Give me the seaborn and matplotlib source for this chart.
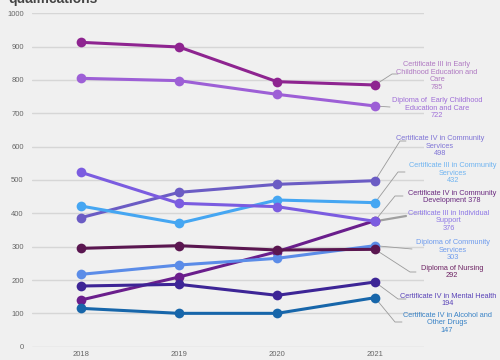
import matplotlib
matplotlib.use("Agg")
import matplotlib.pyplot as plt
import seaborn as sns
import pandas as pd

years = [2018, 2019, 2020, 2021]

series_names = [
    "Certificate III in Early Childhood Education and Care",
    "Diploma of Early Childhood Education and Care",
    "Certificate IV in Community Services",
    "Certificate III in Community Services",
    "Certificate IV in Community Development",
    "Certificate III in Individual Support",
    "Diploma of Community Services",
    "Diploma of Nursing",
    "Certificate IV in Mental Health",
    "Certificate IV in Alcohol and Other Drugs",
]

ecec_cert3 = [913, 899, 795, 785]
ecec_dip = [805, 798, 757, 722]
cs_cert4 = [387, 463, 487, 498]
cs_cert3 = [422, 370, 440, 432]
cd_cert4 = [140, 209, 285, 378]
is_cert3 = [523, 430, 420, 376]
cs_dip = [217, 245, 265, 303]
nursing_dip = [295, 303, 290, 292]
mh_cert4 = [182, 187, 154, 194]
aod_cert4 = [115, 100, 100, 147]

all_values = [ecec_cert3, ecec_dip, cs_cert4, cs_cert3, cd_cert4,
              is_cert3, cs_dip, nursing_dip, mh_cert4, aod_cert4]

line_colors = ["#8e2490", "#9d5fd6", "#6b5cc4", "#45a6f2", "#6a1e8c",
               "#7b5ce0", "#5b8ce8", "#5a1650", "#3d2596", "#1766aa"]
label_colors = ["#b07ac2", "#a06fd8", "#7f74d6", "#6fb4f0", "#6a2a80",
                "#8e78e6", "#6f9cee", "#6e2464", "#5a44b8", "#3a83c6"]

label_texts = [
    "Certificate III in Early\nChildhood Education and\nCare\n785",
    "Diploma of  Early Childhood\nEducation and Care\n722",
    "Certificate IV in Community\nServices\n498",
    "Certificate III in Community\nServices\n432",
    "Certificate IV in Community\nDevelopment 378",
    "Certificate III in Individual\nSupport\n376",
    "Diploma of Community\nServices\n303",
    "Diploma of Nursing\n292",
    "Certificate IV in Mental Health\n194",
    "Certificate IV in Alcohol and\nOther Drugs\n147",
]

rows = []
for name, vals in zip(series_names, all_values):
    for y, v in zip(years, vals):
        rows.append({"Year": y, "Qualification": name, "Count": v})
df = pd.DataFrame(rows)

sns.set_theme(style="white")
plt.rcParams["font.family"] = ["Liberation Sans", "DejaVu Sans"]

bg = "#f0f0f0"
fig = plt.figure(figsize=(5, 3.6), dpi=100, facecolor=bg)
ax = fig.add_axes([0.064, 0.037, 0.784, 0.926], facecolor=bg)

ax.set_axisbelow(True)
ax.yaxis.grid(True, color="#d6d6d6", linewidth=1.0)
ax.xaxis.grid(False)

sns.lineplot(data=df, x="Year", y="Count", hue="Qualification",
             hue_order=series_names, palette=dict(zip(series_names, line_colors)),
             marker="o", markersize=7, markeredgewidth=0, linewidth=2.2,
             legend=False, ax=ax)

ax.set_xlim(2017.5, 2021.5)
ax.set_ylim(0, 1000)
ax.set_yticks(range(0, 1001, 100))
ax.set_xticks(years)
ax.set_xticklabels([str(y) for y in years])
ax.set_xlabel("")
ax.set_ylabel("")
ax.tick_params(axis="both", length=0, labelsize=5.5, colors="#666666")
ax.tick_params(axis="y", pad=6)
ax.tick_params(axis="x", pad=3)
for s in ax.spines.values():
    s.set_visible(False)

# annotations: (text center x px, text center y px, leader path points in px)
W, H = 500, 360
ann = [
    (437, 76, [(392, 74), (398, 74)]),
    (437, 108, [(390, 107)]),
    (440, 146, [(400, 141), (406, 141)]),
    (453, 173, [(398, 172), (405, 172)]),
    (452, 197, [(395, 196), (403, 196)]),
    (449, 221, [(406, 216)]),
    (453, 250, [(412, 249)]),
    (452, 272, [(410, 272), (416, 272)]),
    (448, 300, [(398, 299), (406, 299)]),
    (447, 323, [(395, 322), (402, 322)]),
]

def px2data(px, py):
    disp = (px, (H - py))
    return ax.transData.inverted().transform(disp)

fig.canvas.draw()
for i, (tx, ty, path) in enumerate(ann):
    x0, y0 = years[-1], all_values[i][-1]
    xs = [x0]
    ys = [y0]
    for (px, py) in path:
        dx, dy = px2data(px, py)
        xs.append(dx)
        ys.append(dy)
    lw = 1.6 if i == 5 else 0.6
    lc = "#a0a0a0" if i == 5 else "#9a9a9a"
    ax.plot(xs, ys, color=lc, linewidth=lw, clip_on=False, zorder=1)
    fig.text(tx / W, 1 - ty / H, label_texts[i], ha="center", va="center",
             fontsize=5.3, color=label_colors[i], linespacing=1.15)

fig.text(8 / W, 1 - 2.5 / H, "qualifications", ha="left", va="baseline",
         fontsize=10, fontweight="bold", color="#444444")

fig.savefig("out.png", dpi=100, facecolor=bg)
